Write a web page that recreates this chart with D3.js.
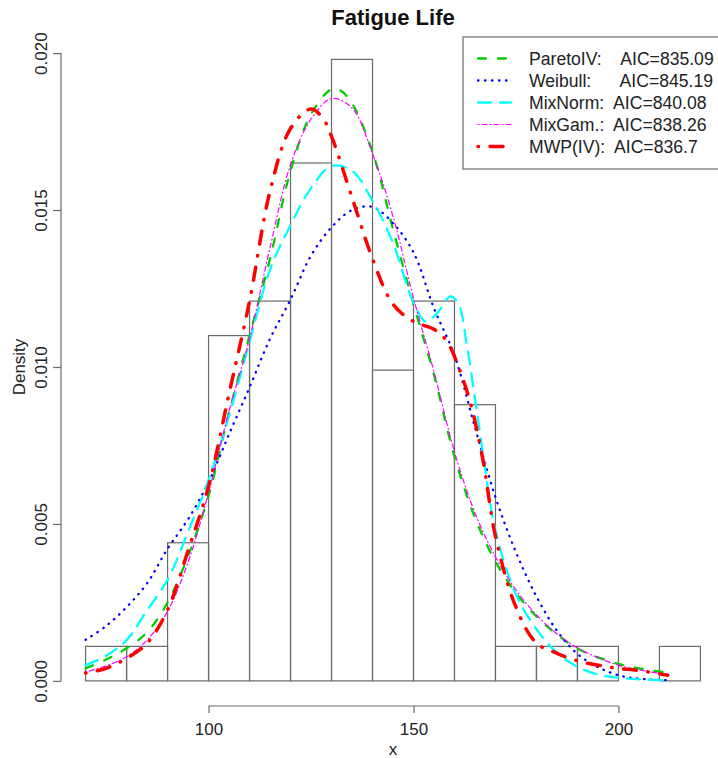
<!DOCTYPE html>
<html>
<head>
<meta charset="utf-8">
<script src="https://cdn.jsdelivr.net/npm/d3@7"></script>
<style>
body { margin: 0; background: #fff; }
svg { font-family: "Liberation Sans", Arial, sans-serif; }
</style>
</head>
<body>
<div id="chart"></div>
<script>
// histogram: bin edges and density per bin
var breaks = [70, 80, 90, 100, 110, 120, 130, 140, 150, 160, 170, 180, 190, 200, 210, 220];
var densities = [0.0011, 0.0011, 0.0044, 0.0110, 0.0121, 0.0165, 0.0198, 0.0099, 0.0121, 0.0088, 0.0011, 0.0011, 0.0011, 0, 0.0011];

var xTicks = [100, 150, 200];
var yTicks = [0, 0.005, 0.010, 0.015, 0.020];

// fitted densities as [x, density]
var paretoIV = [[70,0.00040],[75,0.00068],[80,0.00104],[85,0.00155],[90,0.00250],[95,0.00398],[100,0.00590],
  [105,0.00855],[110,0.01100],[115,0.01345],[120,0.01625],[125,0.01805],[130,0.01885],[132,0.01882],[135,0.01840],
  [140,0.01685],[145,0.01440],[150,0.01200],[155,0.00975],[160,0.00715],[165,0.00520],[170,0.00380],[175,0.00280],
  [180,0.00205],[185,0.00148],[190,0.00103],[195,0.00075],[200,0.00054],[205,0.00040],[212,0.00026]];
var weibull = [[70,0.00131],[75,0.00175],[80,0.00235],[85,0.00311],[90,0.00421],[95,0.00515],[100,0.00633],
  [105,0.00786],[110,0.00935],[115,0.01090],[120,0.01215],[125,0.01355],[130,0.01445],[135,0.01500],[140,0.01510],
  [145,0.01458],[150,0.01365],[155,0.01187],[160,0.01037],[165,0.00808],[170,0.00585],[175,0.00410],[180,0.00269],
  [185,0.00160],[190,0.00086],[195,0.00044],[200,0.00018],[205,0.00007],[212,0.00002]];
var mixNorm = [[70,0.00050],[75,0.00080],[80,0.00130],[85,0.00225],[90,0.00322],[95,0.00475],[100,0.00640],
  [105,0.00845],[110,0.01080],[115,0.01310],[120,0.01452],[125,0.01570],[130,0.01640],[135,0.01625],[140,0.01530],
  [145,0.01395],[150,0.01205],[153,0.01145],[156,0.01175],[159,0.01225],[161,0.01200],[163,0.01070],[165,0.00900],
  [167,0.00720],[170,0.00480],[175,0.00275],[180,0.00165],[185,0.00090],[190,0.00045],[195,0.00020],[200,0.00010],
  [205,0.00005],[212,0.00002]];
var mixGam = [[70,0.00028],[75,0.00048],[80,0.00077],[85,0.00130],[90,0.00222],[95,0.00378],[100,0.00600],
  [105,0.00860],[110,0.01090],[115,0.01380],[120,0.01645],[125,0.01790],[130,0.01855],[135,0.01825],[140,0.01680],
  [145,0.01480],[150,0.01220],[155,0.00985],[160,0.00730],[165,0.00535],[170,0.00395],[175,0.00290],[180,0.00210],
  [185,0.00150],[190,0.00105],[195,0.00074],[200,0.00050],[205,0.00035],[212,0.00020]];
var mwpIV = [[70,0.00025],[75,0.00040],[80,0.00072],[85,0.00120],[90,0.00226],[95,0.00415],[100,0.00620],
  [105,0.00915],[110,0.01210],[115,0.01560],[120,0.01760],[125,0.01822],[128,0.01790],[130,0.01735],[135,0.01540],
  [140,0.01345],[145,0.01200],[150,0.01145],[155,0.01120],[158,0.01085],[161,0.01000],[164,0.00880],[167,0.00700],
  [170,0.00460],[175,0.00235],[180,0.00120],[185,0.00088],[190,0.00064],[195,0.00050],[200,0.00040],[205,0.00033],
  [212,0.00018]];

var legendLabels = ['ParetoIV:    AIC=835.09', 'Weibull:      AIC=845.19', 'MixNorm:  AIC=840.08',
  'MixGam.:  AIC=838.26', 'MWP(IV):  AIC=836.7'];

var series = [
  {data: paretoIV, color: '#00cd00', width: 2.3, dash: '8,12'},
  {data: weibull,  color: '#0000ff', width: 2.3, dash: '0.5,6.5'},
  {data: mixNorm,  color: '#00ffff', width: 2.3, dash: '13,9'},
  {data: mixGam,   color: '#ff00ff', width: 1.2, dash: '1,3,5,3'},
  {data: mwpIV,    color: '#ff0000', width: 3.5, dash: '0.5,11.5,13,11.5'}
];

var fullWidth = 718, fullHeight = 758;
// R style plot region with 4% padding on the data ranges
var plotLeft = 61, plotRight = 725, plotTop = 28, plotBottom = 706;

var svg = d3.select('#chart').append('svg')
  .attr('width', fullWidth)
  .attr('height', fullHeight);

var x = d3.scaleLinear().domain([64, 226]).range([plotLeft, plotRight]);
var y = d3.scaleLinear().domain([-0.0008, 0.0208]).range([plotBottom, plotTop]);

var grey = '#6a6a6a';

// histogram bars
svg.append('g').selectAll('rect')
  .data(densities)
  .enter().append('rect')
    .attr('x', function(d, i) { return x(breaks[i]); })
    .attr('width', function(d, i) { return x(breaks[i + 1]) - x(breaks[i]); })
    .attr('y', function(d) { return y(d); })
    .attr('height', function(d) { return y(0) - y(d); })
    .attr('fill', 'none')
    .attr('stroke', grey)
    .attr('stroke-width', 1.2);

// density curves
var line = d3.line()
  .x(function(d) { return x(d[0]); })
  .y(function(d) { return y(d[1]); })
  .curve(d3.curveCatmullRom.alpha(0.5));

svg.append('g').selectAll('path')
  .data(series)
  .enter().append('path')
    .attr('d', function(s) { return line(s.data); })
    .attr('fill', 'none')
    .attr('stroke', function(s) { return s.color; })
    .attr('stroke-width', function(s) { return s.width; })
    .attr('stroke-dasharray', function(s) { return s.dash; })
    .attr('stroke-linecap', 'round');

// x axis, only spanning the ticks like R does
var xAxis = svg.append('g')
  .attr('transform', 'translate(0,' + plotBottom + ')')
  .call(d3.axisBottom(x).tickValues(xTicks).tickSize(7).tickSizeOuter(0).tickFormat(d3.format('d')));
xAxis.select('.domain').remove();
xAxis.append('line')
  .attr('x1', x(xTicks[0])).attr('x2', x(xTicks[xTicks.length - 1]))
  .attr('stroke', grey).attr('stroke-width', 1.2);
xAxis.selectAll('.tick line').attr('stroke', grey).attr('stroke-width', 1.2);
xAxis.selectAll('.tick text')
  .attr('y', 29).attr('dy', 0)
  .attr('font-size', 17).attr('fill', '#222')
  .attr('font-family', '"Liberation Sans", Arial, sans-serif');

// y axis with labels parallel to the axis
var yAxis = svg.append('g')
  .attr('transform', 'translate(' + plotLeft + ',0)')
  .call(d3.axisLeft(y).tickValues(yTicks).tickSize(8).tickSizeOuter(0).tickFormat(d3.format('.3f')));
yAxis.select('.domain').remove();
yAxis.append('line')
  .attr('y1', y(yTicks[0])).attr('y2', y(yTicks[yTicks.length - 1]))
  .attr('stroke', grey).attr('stroke-width', 1.2);
yAxis.selectAll('.tick line').attr('stroke', grey).attr('stroke-width', 1.2);
yAxis.selectAll('.tick text')
  .attr('x', 0).attr('dy', 0)
  .attr('transform', 'translate(-14,0) rotate(-90)')
  .attr('text-anchor', 'middle')
  .attr('font-size', 17).attr('fill', '#222')
  .attr('font-family', '"Liberation Sans", Arial, sans-serif');

// titles
svg.append('text')
  .attr('x', (plotLeft + plotRight) / 2).attr('y', 25)
  .attr('text-anchor', 'middle')
  .attr('font-size', 22).attr('font-weight', 'bold').attr('fill', '#111')
  .text('Fatigue Life');

svg.append('text')
  .attr('x', (plotLeft + plotRight) / 2).attr('y', 755)
  .attr('text-anchor', 'middle')
  .attr('font-size', 17).attr('fill', '#222')
  .text('x');

svg.append('text')
  .attr('transform', 'translate(24.5,' + (plotTop + plotBottom) / 2 + ') rotate(-90)')
  .attr('text-anchor', 'middle')
  .attr('font-size', 17).attr('fill', '#222')
  .text('Density');

// legend box in the top right corner
var legend = svg.append('g');
legend.append('rect')
  .attr('x', 463).attr('y', 37)
  .attr('width', plotRight - 463).attr('height', 132)
  .attr('fill', '#fff')
  .attr('stroke', grey).attr('stroke-width', 1.2);

var rows = legend.selectAll('g.row')
  .data(series)
  .enter().append('g')
    .attr('class', 'row')
    .attr('transform', function(d, i) { return 'translate(0,' + (58.5 + i * 22) + ')'; });

rows.append('line')
  .attr('x1', 478).attr('x2', 511)
  .attr('stroke', function(s) { return s.color; })
  .attr('stroke-width', function(s) { return s.width; })
  .attr('stroke-dasharray', function(s) { return s.dash; })
  .attr('stroke-linecap', 'round');

rows.append('text')
  .attr('x', 529).attr('y', 6.5)
  .attr('font-size', 17.6).attr('fill', '#222')
  .style('white-space', 'pre')
  .text(function(d, i) { return legendLabels[i]; });
</script>
</body>
</html>
